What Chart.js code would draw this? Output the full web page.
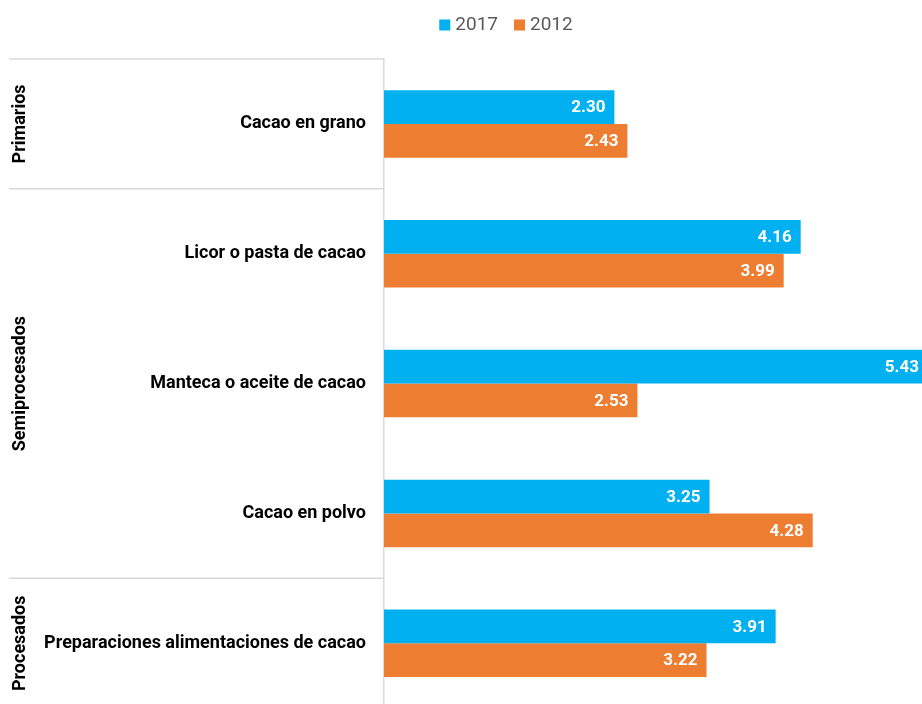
<!DOCTYPE html>
<html>
<head>
<meta charset="utf-8">
<script src="https://cdn.jsdelivr.net/npm/chart.js@4"></script>
<style>
  html, body { margin: 0; padding: 0; background: #fff; overflow: hidden; }
  #wrap { width: 922px; height: 704px; overflow: hidden; }
  canvas { display: block; }
</style>
</head>
<body>
<div id="wrap"><canvas id="chart" width="1012" height="737"></canvas></div>
<script>
const categories = ['Cacao en grano', 'Licor o pasta de cacao', 'Manteca o aceite de cacao', 'Cacao en polvo', 'Preparaciones alimentaciones de cacao'];
const groupNames = ['Primarios', 'Semiprocesados', 'Procesados'];
const groupSizes = [1, 3, 1];
const values2017 = [2.30, 4.16, 5.43, 3.25, 3.91];
const values2012 = [2.43, 3.99, 2.53, 4.28, 3.22];

Chart.defaults.font.family = 'Roboto';

// legend drawn by hand so the box/text spacing matches
const topLegend = {
  id: 'topLegend',
  afterDraw(chart) {
    const ctx = chart.ctx;
    const box = 11, gap = 5, itemGap = 16;
    ctx.save();
    ctx.font = '19px Roboto';
    ctx.textBaseline = 'middle';
    const items = chart.data.datasets.map(ds => ({ ds, w: ctx.measureText(ds.label).width }));
    let total = items.reduce((s, it) => s + box + gap + it.w, 0) + itemGap * (items.length - 1);
    let x = chart.width / 2 - total / 2;
    const y = 25;
    items.forEach(it => {
      ctx.fillStyle = it.ds.backgroundColor;
      ctx.fillRect(x, y - box / 2, box, box);
      ctx.fillStyle = '#595959';
      ctx.fillText(it.ds.label, x + box + gap, y);
      x += box + gap + it.w + itemGap;
    });
    ctx.restore();
  }
};

// white values at the end of each bar
const barValues = {
  id: 'barValues',
  afterDatasetsDraw(chart) {
    const ctx = chart.ctx;
    ctx.save();
    ctx.font = 'bold 17px Roboto';
    ctx.fillStyle = '#fff';
    ctx.textAlign = 'right';
    ctx.textBaseline = 'middle';
    chart.data.datasets.forEach((ds, i) => {
      chart.getDatasetMeta(i).data.forEach((bar, j) => {
        ctx.fillText(ds.data[j].toFixed(2), bar.x - 9, bar.y + 1);
      });
    });
    ctx.restore();
  }
};

// group separators and rotated group names on the left
const groups = {
  id: 'groups',
  afterDraw(chart) {
    const ctx = chart.ctx;
    const area = chart.chartArea;
    const band = (area.bottom - area.top) / categories.length;
    ctx.save();
    ctx.strokeStyle = '#d9d9d9';
    ctx.lineWidth = 1.5;
    let start = 0;
    groupNames.forEach((name, g) => {
      const top = area.top + start * band;
      const bottom = top + groupSizes[g] * band;
      ctx.beginPath();
      ctx.moveTo(9, top);
      ctx.lineTo(area.left, top);
      ctx.stroke();
      ctx.save();
      ctx.translate(20, (top + bottom) / 2);
      ctx.rotate(-Math.PI / 2);
      ctx.font = 'bold 18px Roboto';
      ctx.fillStyle = '#000';
      ctx.textAlign = 'center';
      ctx.textBaseline = 'middle';
      ctx.fillText(name, 0, 0);
      ctx.restore();
      start += groupSizes[g];
    });
    ctx.restore();
  }
};

new Chart(document.getElementById('chart'), {
  type: 'bar',
  data: {
    labels: categories,
    datasets: [
      { label: '2017', data: values2017, backgroundColor: '#00b0f0' },
      { label: '2012', data: values2012, backgroundColor: '#ed7d31' }
    ]
  },
  options: {
    indexAxis: 'y',
    responsive: false,
    animation: false,
    layout: { padding: { left: 0, right: 27, top: 59, bottom: 0 } },
    categoryPercentage: 0.52,
    barPercentage: 1,
    plugins: {
      legend: { display: false },
      tooltip: { enabled: false }
    },
    scales: {
      x: { display: false, min: 0, max: 6 },
      y: {
        afterFit(scale) { scale.width = 384; },
        grid: { display: false, drawTicks: false },
        border: { display: true, color: '#d9d9d9', width: 1.5 },
        ticks: {
          autoSkip: false,
          padding: 18,
          color: '#000',
          font: { size: 18, weight: 'bold' }
        }
      }
    }
  },
  plugins: [topLegend, barValues, groups]
});
</script>
</body>
</html>
